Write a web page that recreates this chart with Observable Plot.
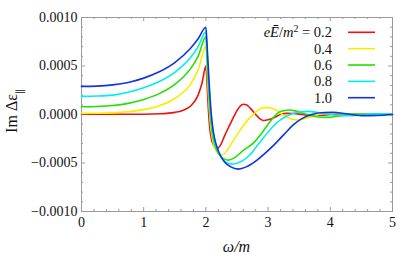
<!DOCTYPE html>
<html><head><meta charset="utf-8">
<script src="https://cdn.jsdelivr.net/npm/d3@7"></script>
<script src="https://cdn.jsdelivr.net/npm/@observablehq/plot@0.6"></script>
<style>
body{margin:0;background:#fff}
</style>
</head><body><div id="chart"></div>
<script>
// Series labels (eE/m^2) and colours
const fieldLabels = ["0.2", "0.4", "0.6", "0.8", "1.0"];
const seriesColors = ["#ee1111", "#f4ee00", "#22e000", "#00eeee", "#1133e0"];

// Im Δε|| values in units of 1e-4
const omega02 = [0,0.5,1.0,1.25,1.5,1.625,1.75,1.875,1.94,2.0,2.02,2.04,2.07,2.1,2.14,2.18,2.24,2.3,2.39,2.45,2.5,2.55,2.6,2.65,2.72,2.8,2.87,2.93,3.0,3.1,3.2,3.3,3.4,3.55,3.7,3.85,4.0,4.2,4.5,5.0];
const im02    = [0.02,0.02,0.03,0.07,0.22,0.42,0.85,2.0,3.3,5.0,3.0,0.5,-1.8,-2.8,-3.3,-3.5,-3.1,-2.2,-1.0,-0.2,0.4,0.85,1.05,1.0,0.6,0.0,-0.45,-0.62,-0.55,-0.3,0.0,0.12,0.1,0.0,-0.1,-0.08,0.0,0.05,0.0,0.0];

const omega04 = [0,0.25,0.5,0.75,1.0,1.25,1.5,1.75,1.875,2.0,2.02,2.05,2.08,2.12,2.17,2.22,2.27,2.35,2.44,2.52,2.6,2.68,2.77,2.84,2.9,2.98,3.1,3.24,3.35,3.46,3.56,3.7,3.85,4.05,4.3,4.6,5.0];
const im04    = [0.12,0.13,0.17,0.28,0.5,0.9,1.65,3.1,4.6,7.0,4.5,1.0,-1.4,-3.0,-3.8,-4.1,-4.15,-3.6,-2.7,-1.9,-1.16,-0.5,0.05,0.45,0.67,0.73,0.55,-0.05,-0.4,-0.55,-0.45,-0.25,0.05,0.12,0.05,-0.02,0.0];

const omega06 = [0,0.25,0.5,0.75,1.0,1.25,1.5,1.75,1.875,2.0,2.02,2.05,2.08,2.12,2.17,2.23,2.3,2.36,2.45,2.6,2.77,2.9,3.0,3.1,3.2,3.33,3.45,3.6,3.8,3.95,4.15,4.4,4.7,5.0];
const im06    = [0.8,0.83,0.93,1.15,1.55,2.15,3.1,4.7,6.0,8.0,5.5,2.0,-0.7,-2.6,-3.6,-4.25,-4.6,-4.7,-4.5,-3.7,-2.9,-1.9,-1.0,-0.2,0.3,0.46,0.35,0.05,-0.25,-0.3,-0.15,0.05,0.05,0.0];

const omega08 = [0,0.25,0.5,0.75,1.0,1.25,1.5,1.75,1.875,2.0,2.02,2.05,2.08,2.12,2.17,2.23,2.3,2.37,2.44,2.55,2.7,2.85,3.0,3.15,3.3,3.5,3.65,3.8,4.0,4.2,4.4,4.7,5.0];
const im08    = [1.87,1.9,2.0,2.3,2.75,3.4,4.35,5.85,7.0,8.5,6.3,2.8,-0.1,-2.2,-3.4,-4.2,-4.8,-5.05,-5.1,-4.9,-4.2,-3.0,-1.8,-0.8,-0.15,0.25,0.32,0.2,0.0,-0.12,-0.1,0.05,0.05];

const omega10 = [0,0.25,0.5,0.75,1.0,1.25,1.5,1.75,1.875,2.0,2.02,2.05,2.08,2.12,2.17,2.23,2.3,2.4,2.52,2.65,2.8,2.95,3.1,3.25,3.4,3.55,3.7,3.9,4.05,4.25,4.5,4.75,5.0];
const im10    = [2.9,2.93,3.05,3.3,3.75,4.4,5.35,6.8,7.8,9.0,7.0,3.5,0.5,-1.8,-3.2,-4.2,-4.9,-5.4,-5.63,-5.4,-4.8,-4.0,-3.1,-2.1,-1.1,-0.4,0.0,0.2,0.22,0.08,-0.12,-0.1,0.0];

// Ticks
const xMajor = [0,1,2,3,4,5];
const xMinor = [0.2,0.4,0.6,0.8,1.2,1.4,1.6,1.8,2.2,2.4,2.6,2.8,3.2,3.4,3.6,3.8,4.2,4.4,4.6,4.8];
const yMajor = [-10,-5,0,5,10];
const yMinor = [-9,-8,-7,-6,-4,-3,-2,-1,1,2,3,4,6,7,8,9];
const yTickLabels = ["\u22120.0010","\u22120.0005","0.0000","0.0005","0.0010"];

const omegas = [omega02, omega04, omega06, omega08, omega10];
const ims = [im02, im04, im06, im08, im10];
const table = [];
fieldLabels.forEach((lab, i) => omegas[i].forEach((w, j) => table.push({series: lab, omega: w, v: ims[i][j]})));

const W = 411, H = 258, mL = 81, mR = 19, mT = 17, mB = 47;
const FW = W - mL - mR, FH = H - mT - mB;
const fc = "#9a9a9a";
const serif = "Liberation Serif";

const chart = Plot.plot({
  width: W, height: H,
  marginLeft: mL, marginRight: mR, marginTop: mT, marginBottom: mB,
  style: {fontSize: "14px", background: "#fff", color: "#111"},
  x: {domain: [0, 5]},
  y: {domain: [-10, 10]},
  color: {domain: fieldLabels, range: seriesColors},
  marks: [
    Plot.ruleX(xMajor, {insetTop: FH - 4, stroke: fc}),
    Plot.ruleX(xMajor, {insetBottom: FH - 4, stroke: fc}),
    Plot.ruleX(xMinor, {insetTop: FH - 2, stroke: fc}),
    Plot.ruleX(xMinor, {insetBottom: FH - 2, stroke: fc}),
    Plot.ruleY(yMajor, {insetRight: FW - 4, stroke: fc}),
    Plot.ruleY(yMajor, {insetLeft: FW - 4, stroke: fc}),
    Plot.ruleY(yMinor, {insetRight: FW - 2, stroke: fc}),
    Plot.ruleY(yMinor, {insetLeft: FW - 2, stroke: fc}),
    Plot.frame({stroke: fc}),
    Plot.axisX({ticks: xMajor, tickSize: 0, tickPadding: 6, label: null, fontSize: 14, tickFormat: d => String(d)}),
    Plot.axisY({ticks: yMajor, tickSize: 0, tickPadding: 4, label: null, fontSize: 14, tickFormat: d => yTickLabels[yMajor.indexOf(d)]}),
    Plot.line(table, {x: "omega", y: "v", z: "series", stroke: "series", curve: "monotone-x", strokeWidth: 1.6})
  ]
});

const svg = d3.select(chart);
// Y axis label
const yl = svg.append("text")
  .attr("transform", "translate(16.5,111) rotate(-90)")
  .attr("text-anchor", "middle").attr("font-size", 16).attr("fill", "#111");
yl.append("tspan").text("Im \u0394\u03b5");
yl.append("tspan").attr("baseline-shift", "sub").attr("font-size", 10).text("\u2225");
// X axis label
svg.append("text").attr("x", mL + FW / 2).attr("y", 252)
  .attr("text-anchor", "middle").attr("font-size", 16).attr("font-style", "italic").attr("fill", "#111")
  .text("\u03c9/m");

// Legend
const lg = svg.append("g").attr("font-size", 14.5).attr("fill", "#111");
fieldLabels.forEach((lab, i) => {
  const cy = 32.3 + i * 16.35;
  const t = lg.append("text").attr("x", 332).attr("y", cy + 5).attr("text-anchor", "end");
  if (i === 0) {
    t.append("tspan").attr("font-style", "italic").text("e\u0112");
    t.append("tspan").text("/");
    t.append("tspan").attr("font-style", "italic").text("m");
    t.append("tspan").attr("baseline-shift", "super").attr("font-size", 10).text("2");
    t.append("tspan").text(" = " + lab);
  } else {
    t.text(lab);
  }
  lg.append("line").attr("x1", 348).attr("x2", 375).attr("y1", cy).attr("y2", cy)
    .attr("stroke", seriesColors[i]).attr("stroke-width", 1.6);
});

// force the serif face on every text element
svg.attr("font-family", serif).style("font-family", serif);
svg.selectAll("g").attr("font-family", serif);
svg.selectAll("text").attr("font-family", serif).style("font-family", serif);

document.getElementById("chart").appendChild(chart);
</script>
</body></html>
